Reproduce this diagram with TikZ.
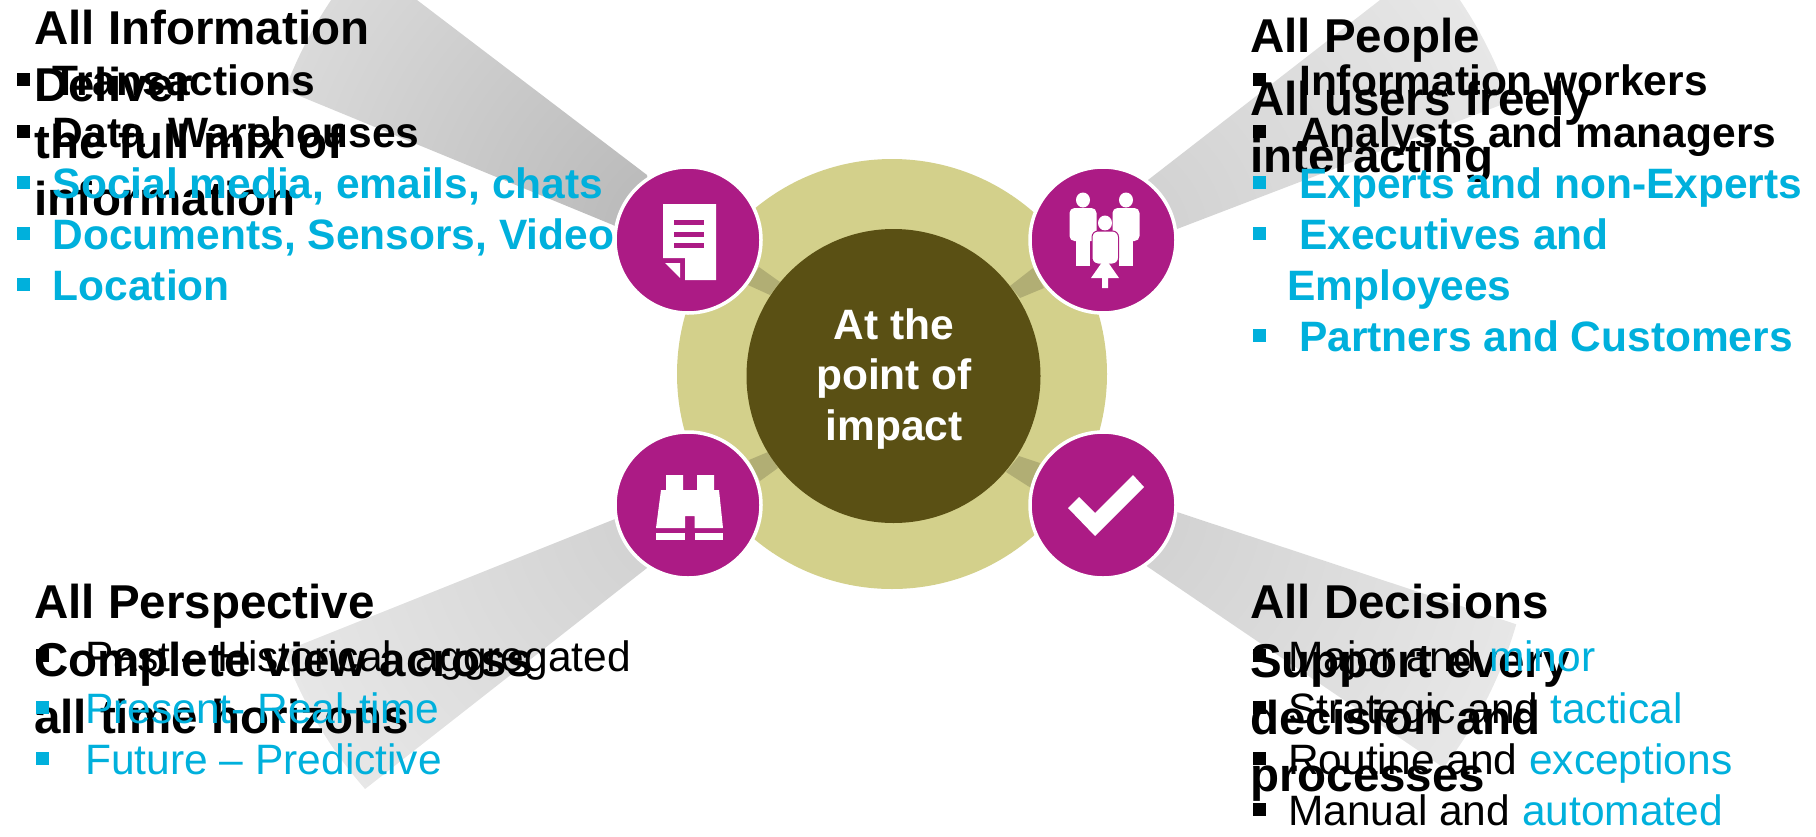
\documentclass[tikz,border=0pt]{standalone}
\usepackage{fontspec}
\setmainfont{Liberation Sans}
\definecolor{hubmagenta}{HTML}{AC1B85}
\definecolor{hubolive}{HTML}{D3D08B}
\definecolor{hubdark}{HTML}{5A5014}
\definecolor{itemcyan}{HTML}{00B0DC}
\pgfdeclareradialshading{beamdark}{\pgfpoint{0bp}{0bp}}{color(0bp)=(black!29); color(50bp)=(white)}
\pgfdeclareradialshading{beamlight}{\pgfpoint{0bp}{0bp}}{color(0bp)=(black!19); color(50bp)=(white)}
\newcommand{\BulletItem}[6]% #1=name, #2=bullet x, #3=text x, #4=baseline y, #5=bullet colour, #6=text
{\node[bulletbox, fill=#5] (#1b) at (#2,#4-8) {};
    \node[itemtext, text=#5] (#1) at (#3,#4+1.5) {#6};
}
\newcommand{\LightBeam}[4][beamlight]% #1=shading, #2=name of hub, #3=centre of hub, #4=outline
{\begin{scope}
    \clip #4 -- cycle;
    \shade[shading=#1] #3 circle (430);
  \end{scope}
}
\tikzset{
  bulletbox/.style={rectangle, anchor=south west, minimum size=13, inner sep=0},
  itemtext/.style={anchor=base west, inner sep=0, font=\fontsize{42.5}{51}\selectfont},
  headtext/.style={anchor=base west, inner sep=0, align=left, font=\fontsize{47.5}{57}\selectfont\bfseries},
  hubcircle/.style={circle, fill=hubmagenta, draw=white, line width=3.5, minimum size=146, inner sep=0},
  beamshadow/.style={fill=black, opacity=0.16},
}

\begin{document}
\begin{tikzpicture}[x=1pt,y=-1pt]
  \useasboundingbox (0,0) rectangle (1816,836);
  % beams outside the ring
  \LightBeam[beamdark]{info}{(688,240)}{(647,175) -- (417,0) -- (200,0) -- (200,55) -- (613,225) -- (660,250)}
  \LightBeam{people}{(1103,240)}{(1148,180) -- (1380,0) -- (1700,0) -- (1600,67) -- (1177,229) -- (1120,250)}
  \LightBeam{persp}{(688,505)}{(647,568) -- (300,840) -- (200,840) -- (200,685) -- (615,519) -- (680,500)}
  \LightBeam{decide}{(1103,505)}{(1177,512) -- (1600,652) -- (1600,880) -- (1500,806) -- (1148,567) -- (1110,530)}
  % ring and center
  \node[circle, fill=hubolive, minimum size=430, inner sep=0] (ring) at (892,374) {};
  \fill[beamshadow] (759,267) -- (780,282) -- (770,295) -- (748,285) -- cycle;
  \fill[beamshadow] (1033,268) -- (1010,286) -- (1020,298) -- (1044,288) -- cycle;
  \fill[beamshadow] (749,460) -- (768,452) -- (778,468) -- (760,481) -- cycle;
  \fill[beamshadow] (1019,456) -- (1040,463) -- (1031,488) -- (1006,472) -- cycle;
  \node[circle, fill=hubdark, minimum size=294, inner sep=0] (impact) at (893.5,376) {};
  \node[text=white, align=center, font=\fontsize{42.5}{50.5}\selectfont\bfseries] (impacttext) at (894,379) {At the\\point of\\impact};
  % hub circles
  \node[hubcircle] (info) at (688,240) {};
  \node[hubcircle] (people) at (1103,240) {};
  \node[hubcircle] (persp) at (688,505) {};
  \node[hubcircle] (decide) at (1103,505) {};
  % document icon
  \fill[white] (663,204) -- (716,204) -- (716,280) -- (685,280) -- (685,258) -- (663,258) -- cycle;
  \fill[white] (665,263) -- (680,263) -- (680,278) -- cycle;
  \foreach \y in {220,232,243}
    \fill[hubmagenta] (674,\y) rectangle (704,\y+5);
  % people icon
  \foreach \x in {1083,1126} {
    \fill[white] (\x,200) ellipse (7 and 7.5);
    \fill[white, rounded corners=5] (\x-13.5,208) rectangle (\x+13.5,241);
    \fill[white] (\x-7,230) rectangle (\x+7,266);
  }
  \fill[white] (1105,223) ellipse (7 and 7.5);
  \filldraw[white, draw=hubmagenta, line width=1, rounded corners=6] (1092,231) rectangle (1118.5,264);
  \fill[white] (1105,258) -- (1119,278) -- (1108,278) -- (1108,288) -- (1102,288) -- (1102,278) -- (1091,278) -- cycle;
  % binoculars icon
  \fill[white] (666,475) -- (683,475) -- (683,490) -- (697,490) -- (697,475) -- (714,475) -- (714,490) -- (719,490)
    -- (723,528) -- (694.5,528) -- (694.5,516) -- (685,516) -- (685,528) -- (656,528) -- (661,490) -- (666,490) -- cycle;
  \fill[white] (656,533) rectangle (685,540);
  \fill[white] (694.5,533) rectangle (723,540);
  % check mark icon
  \fill[white] (1133,475) -- (1144,487) -- (1095,536) -- (1068,508) -- (1079,497) -- (1095,513) -- cycle;
  % top left text
  \node[headtext] (infohead) at (34,44) {All Information};
  \node[headtext] (infosub) at (34,215) {Deliver\\the full mix of\\information};
  \BulletItem{infoa}{17}{52.5}{94}{black}{\textbf{Transactions}}
  \BulletItem{infob}{17}{52.5}{146}{black}{\textbf{Data\ \ Warehouses}}
  \BulletItem{infoc}{17}{52.5}{197}{itemcyan}{\textbf{Social media, emails, chats}}
  \BulletItem{infod}{17}{52.5}{248}{itemcyan}{\textbf{Documents, Sensors, Video}}
  \BulletItem{infoe}{17}{52.5}{299}{itemcyan}{\textbf{Location}}
  % top right text
  \node[headtext] (peoplehead) at (1250,52) {All People};
  \node[headtext] (peoplesub) at (1250,172) {All users freely\\interacting};
  \BulletItem{peoplea}{1253}{1299}{94}{black}{\textbf{Information workers}}
  \BulletItem{peopleb}{1253}{1299}{146}{black}{\textbf{Analysts and managers}}
  \BulletItem{peoplec}{1253}{1299}{197}{itemcyan}{\textbf{Experts and non-Experts}}
  \BulletItem{peopled}{1253}{1299}{248}{itemcyan}{\textbf{Executives and}}
  \node[itemtext, text=itemcyan] (peopled2) at (1287,300.5) {\textbf{Employees}};
  \BulletItem{peoplee}{1253}{1299}{350}{itemcyan}{\textbf{Partners and Customers}}
  % bottom left text
  \node[headtext] (persphead) at (34,618) {All Perspective};
  \node[headtext] (perspsub) at (34,733) {Complete view across\\all time horizons};
  \BulletItem{perspa}{36}{85}{670}{black}{Past – Historical\ \ aggregated}
  \BulletItem{perspb}{36}{85}{722}{itemcyan}{Present- Real-time}
  \BulletItem{perspc}{36}{85}{773}{itemcyan}{Future – Predictive}
  % bottom right text
  \node[headtext] (decidehead) at (1250,618) {All Decisions};
  \node[headtext] (decidesub) at (1250,791) {Support every\\decision and\\processes};
  \BulletItem{decidea}{1253}{1288}{670}{black}{Major and \textcolor{itemcyan}{minor}}
  \BulletItem{decideb}{1253}{1288}{722}{black}{Strategic and \textcolor{itemcyan}{tactical}}
  \BulletItem{decidec}{1253}{1288}{773}{black}{Routine and \textcolor{itemcyan}{exceptions}}
  \BulletItem{decided}{1253}{1288}{824}{black}{Manual and \textcolor{itemcyan}{automated}}
\end{tikzpicture}
\end{document}
